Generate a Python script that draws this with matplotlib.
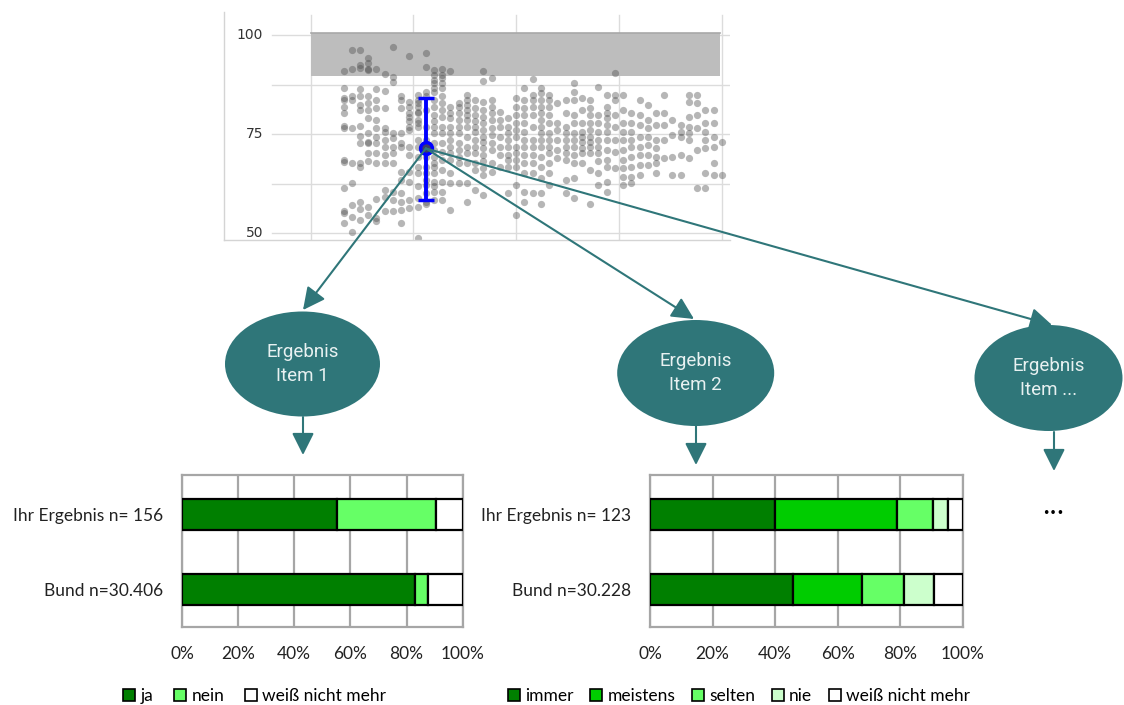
import numpy as np
import matplotlib.pyplot as plt
from matplotlib.patches import Ellipse, FancyArrowPatch, Patch

# %% data
# ----------------------------------------------------------------------
# scatter: x position of each column of dots and the y values read per column
col_x = [8, 10, 12, 14, 16, 18, 20, 22, 24, 26, 28, 30, 32, 34, 36, 38,
         40, 42, 44, 46, 48, 50, 52, 54, 56, 58, 60, 62, 64, 66, 68, 70,
         72, 74, 76, 78, 80, 82, 84, 86, 88, 90, 92, 94, 96, 98, 100]
col_y = [
    [91.0, 86.6, 84.0, 83.6, 81.9, 80.3, 77.1, 76.6, 68.5, 67.9, 61.3, 55.5, 55.1, 52.7],
    [96.2, 91.4, 84.6, 83.6, 76.6, 67.8, 62.6, 57.1, 54.2, 50.4],
    [96.2, 92.4, 91.6, 86.3, 84.5, 82.4, 81.1, 77.1, 74.5, 72.7, 67.6, 66.8, 58.0, 56.1, 53.4],
    [94.1, 92.9, 91.4, 91.2, 84.5, 82.8, 81.1, 79.0, 75.2, 73.1, 72.7, 70.2, 68.1, 56.7, 54.6],
    [91.4, 86.3, 83.6, 81.5, 78.6, 76.5, 74.4, 72.7, 70.2, 67.6, 58.6, 53.8, 53.2],
    [90.2, 86.0, 81.5, 76.5, 75.6, 73.5, 71.8, 69.7, 67.6, 60.9, 59.2, 55.5],
    [96.9, 89.5, 88.2, 75.2, 73.9, 71.8, 70.2, 67.6, 60.5, 58.4, 55.7],
    [84.5, 83.6, 81.5, 75.2, 72.7, 71.8, 65.5, 63.4, 60.1, 58.0, 55.9, 52.5],
    [94.6, 83.2, 81.9, 80.3, 79.4, 78.2, 76.9, 76.1, 71.8, 69.7, 65.5, 63.0, 58.4, 56.3],
    [84.9, 83.6, 82.8, 81.9, 80.7, 80.3, 78.6, 77.7, 76.9, 73.5, 71.8, 69.3, 66.8, 65.1,
     61.8, 58.8, 56.7, 48.7],
    [95.5, 92.0, 85.7, 84.5, 81.1, 76.9, 73.5, 71.4, 71.4, 69.3, 66.8, 65.1, 63.4, 62.2,
     60.1, 58.0, 57.4],
    [91.2, 89.9, 88.7, 87.8, 86.6, 85.7, 83.6, 81.9, 79.8, 78.2, 76.9, 75.2, 72.7, 71.0,
     69.3, 67.6, 66.8, 65.1, 63.0, 61.8, 60.5, 58.4],
    [91.3, 89.9, 89.1, 87.8, 86.6, 84.5, 82.8, 81.1, 79.4, 76.9, 75.2, 72.7, 70.6, 68.5,
     66.0, 63.0, 60.5, 58.4],
    [91.0, 81.9, 80.3, 79.0, 76.9, 75.2, 73.5, 71.8, 70.2, 68.5, 65.1, 62.6, 55.9],
    [82.8, 81.9, 80.3, 78.6, 76.9, 75.2, 72.7, 71.0, 69.3, 67.6, 62.6],
    [84.9, 83.6, 82.4, 81.1, 79.8, 78.6, 76.9, 74.4, 71.8, 70.2, 67.6, 62.6, 58.0],
    [83.6, 81.5, 79.8, 78.2, 76.9, 75.6, 73.5, 71.8, 70.2, 67.6, 65.9, 60.9],
    [91.0, 88.5, 83.2, 81.1, 79.4, 77.7, 76.1, 74.4, 73.1, 71.4, 69.7, 68.1, 66.4, 64.7, 59.7],
    [89.2, 83.6, 81.9, 80.3, 78.6, 76.5, 74.8, 72.7, 71.0, 67.6, 65.5],
    [80.7, 78.6, 76.9, 74.4, 71.8, 69.7, 66.8],
    [79.0, 76.9, 75.2, 73.5, 71.8, 69.7, 68.5, 66.8, 60.1],
    [84.0, 81.9, 79.8, 77.7, 76.1, 74.4, 71.8, 70.2, 68.5, 66.8, 62.2, 54.6],
    [86.6, 83.6, 81.5, 79.8, 77.7, 75.6, 73.5, 71.8, 69.7, 67.6, 65.1, 60.5, 58.0],
    [88.9, 84.9, 83.6, 81.9, 79.8, 76.9, 73.5, 71.8, 69.7, 67.6, 65.1, 60.1],
    [86.6, 85.3, 83.6, 81.9, 80.3, 78.6, 76.9, 75.2, 73.5, 71.8, 69.3, 66.8, 63.9, 60.1, 57.4],
    [84.9, 83.6, 81.9, 79.8, 77.7, 75.2, 73.5, 71.8, 70.2, 67.6, 65.1, 62.2],
    [82.8, 77.7, 76.1, 73.5, 71.0, 68.9],
    [83.6, 80.3, 76.9, 75.2, 73.5, 71.8, 70.2, 68.5, 63.4, 60.1],
    [87.8, 85.7, 83.6, 79.8, 77.7, 75.2, 73.5, 71.8, 69.7, 67.6, 63.9, 58.8],
    [84.0, 81.1, 77.7, 75.6, 74.4, 73.1, 71.4, 70.2, 67.6],
    [83.6, 81.5, 79.8, 77.7, 76.1, 74.4, 73.1, 71.8, 70.2, 66.0, 57.3],
    [86.8, 79.8, 77.7, 75.6, 73.5, 71.8, 70.2, 68.1, 65.1, 62.2],
    [84.9, 81.9, 80.3, 79.0, 77.3, 75.6, 73.5, 71.0, 68.5, 66.8, 63.0, 60.5],
    [90.3, 84.9, 83.6, 79.8, 76.9, 73.5, 70.6, 66.4],
    [84.9, 81.1, 77.7, 75.6, 73.5, 71.0, 68.5, 66.4, 64.3, 62.2],
    [80.3, 77.7, 75.6, 73.5, 71.8, 69.3, 66.8, 64.3, 62.6],
    [83.6, 79.8, 77.3, 74.4, 71.8, 69.7, 67.2, 64.7],
    [82.4, 78.6, 76.5, 74.4, 72.3, 69.7, 67.2],
    [80.3, 77.3, 73.5, 71.4, 69.3, 67.6, 65.1],
    [84.9, 80.3, 77.3, 73.5, 68.9],
    [78.6, 74.8, 69.3, 64.7],
    [77.3, 75.6, 74.4, 69.7, 64.7],
    [84.9, 83.2, 79.4, 76.9, 75.2, 73.5, 68.9],
    [84.9, 82.8, 79.8, 76.5, 71.0, 61.3],
    [81.1, 77.7, 75.6, 73.5, 71.4, 65.1, 61.3],
    [81.1, 77.7, 74.4, 71.8, 67.6, 64.7],
    [73.1, 64.7],
]
y_ticks = [50, 75, 100]
band_lo, band_hi = 89.6, 100.4
err_x, err_mean, err_lo, err_hi = 28, 71.4, 58.5, 84.0

# item 1
rows1 = ["Ihr Ergebnis n= 156", "Bund n=30.406"]
cats1 = ["ja", "nein", "weiß nicht mehr"]
ihr1 = [55.1, 35.4, 9.5]
bund1 = [82.9, 4.8, 12.3]
colors1 = ["#007F00", "#66FF66", "#FFFFFF"]

# item 2
rows2 = ["Ihr Ergebnis n= 123", "Bund n=30.228"]
cats2 = ["immer", "meistens", "selten", "nie", "weiß nicht mehr"]
ihr2 = [40.1, 38.9, 11.6, 4.8, 4.6]
bund2 = [45.6, 22.3, 13.3, 9.7, 9.1]
colors2 = ["#007F00", "#00CC00", "#66FF66", "#CCFFCC", "#FFFFFF"]

items = ["Ergebnis\nItem 1", "Ergebnis\nItem 2", "Ergebnis\nItem ..."]
x_ticks_pct = [0, 20, 40, 60, 80, 100]

# %% layout helpers
# ----------------------------------------------------------------------
W, H = 1124, 705
TEAL = "#2F7679"
BAR_FONT = "Lato"


def box(l, t, r, b):
    return [l / W, 1 - b / H, (r - l) / W, (b - t) / H]


fig = plt.figure(figsize=(W / 100, H / 100), dpi=100)
fig.patch.set_facecolor("white")

# %% scatter
# ----------------------------------------------------------------------
ax_sc = fig.add_axes(box(224, 12, 730, 240))
ax_sc.set_xlim(-21.1, 102.0)
ax_sc.set_ylim(48.3, 105.8)
for s in ["top", "right"]:
    ax_sc.spines[s].set_visible(False)
for s in ["left", "bottom"]:
    ax_sc.spines[s].set_color("#D4D4D4")
    ax_sc.spines[s].set_linewidth(1)
ax_sc.set_xticks([])
ax_sc.set_yticks([])

# grid
for g in [50, 62.5, 75, 87.5, 100]:
    ax_sc.plot([-9.4, 102.0], [g, g], color="#DCDCDC", lw=1, zorder=0)
for g in [0, 25, 50, 75, 100]:
    ax_sc.plot([g, g], [48.3, 105.0], color="#DCDCDC", lw=1, zorder=0)
for t in y_ticks:
    ax_sc.text(-11.6, t, str(t), ha="right", va="center", fontsize=10, color="#333333")

ax_sc.fill_between([0, 99.6], band_lo, band_hi, color="#BDBDBD", lw=0, zorder=1)
ax_sc.plot([0, 99.6], [band_hi, band_hi], color="#A8A8A8", lw=1.2, zorder=1)

xs = np.concatenate([[x] * len(ys) for x, ys in zip(col_x, col_y)])
ys = np.concatenate(col_y)
ax_sc.scatter(xs, ys, s=27, color="#4A4A4A", alpha=0.4, lw=0, zorder=2)

ax_sc.errorbar([err_x], [err_mean], yerr=[[err_mean - err_lo], [err_hi - err_mean]],
               fmt="o", color="#0000FF", ecolor="#0000FF", elinewidth=2.8, capsize=5.5,
               capthick=2.8, ms=8.5, mfc="#3C3C66", mec="#0000FF", mew=2.5, zorder=4)

# %% bar charts
# ----------------------------------------------------------------------
def stacked(rect, rows, cats, ihr, bund, colors, leg_left, colspace):
    ax = fig.add_axes(box(*rect))
    vals = np.array([ihr, bund])
    left = np.zeros(2)
    for j, c in enumerate(cats):
        ax.barh([0, 1], vals[:, j], left=left, height=0.414, color=colors[j],
                edgecolor="black", lw=1.6, label=c, zorder=3)
        left += vals[:, j]
    ax.set_xlim(0, 100)
    ax.set_ylim(1.497, -0.531)
    ax.set_yticks([0, 1])
    ax.set_yticklabels(rows, fontsize=12.5, family=BAR_FONT, color="#222222")
    ax.set_xticks(x_ticks_pct)
    ax.set_xticklabels([f"{v}%" for v in x_ticks_pct], fontsize=12.5, family=BAR_FONT,
                       color="#222222")
    ax.tick_params(length=0, axis="x", pad=14)
    ax.tick_params(length=0, axis="y", pad=13.5)
    ax.xaxis.grid(True, color="#A6A6A6", lw=1.6)
    ax.set_axisbelow(True)
    for s in ax.spines.values():
        s.set_color("#A6A6A6")
        s.set_linewidth(1.6)
    handles = [Patch(facecolor=colors[j], edgecolor="black", lw=1.2) for j in range(len(cats))]
    ax.legend(handles, cats, loc="center left", bbox_to_anchor=(leg_left, -0.46), ncol=len(cats),
              frameon=False, handlelength=0.7, handleheight=0.7, handletextpad=0.3,
              columnspacing=colspace, borderpad=0, borderaxespad=0,
              prop={"family": BAR_FONT, "size": 12.5})
    return ax


stacked((182, 475, 462.7, 626.7), rows1, cats1, ihr1, bund1, colors1, -0.21, 1.2)
stacked((650, 475, 962.7, 626.7), rows2, cats2, ihr2, bund2, colors2, -0.455, 0.95)

# %% diagram overlay: ellipses and arrows
# ----------------------------------------------------------------------
ov = fig.add_axes([0, 0, 1, 1], zorder=10)
ov.set_xlim(0, W)
ov.set_ylim(H, 0)
ov.axis("off")
ov.patch.set_alpha(0)

# start of the arrows = error bar centre
start = ov.transData.inverted().transform(ax_sc.transData.transform((err_x, err_mean)))

ell = [((302.5, 364), 155, 105), ((695.7, 373), 157, 106), ((1048.5, 378), 148, 106)]
tips = [(303, 310), (694, 319), (1052, 325)]
downs = [((303, 417), (303, 455)), ((696, 426), (696, 465)), ((1054, 432), (1054, 471))]

style = "-|>,head_length=0.9,head_width=0.45"
for (c, w, h), txt, tip, (d0, d1) in zip(ell, items, tips, downs):
    ov.add_patch(Ellipse(c, w, h, facecolor=TEAL, edgecolor="none"))
    ov.text(c[0], c[1], txt, ha="center", va="center", color="#E8F1F1", fontsize=13.5,
            family="Roboto", linespacing=1.45)
    ov.add_patch(FancyArrowPatch(tuple(start), tip, arrowstyle=style, mutation_scale=15,
                                 color=TEAL, lw=1.5, shrinkA=0, shrinkB=0))
    ov.add_patch(FancyArrowPatch(d0, d1, arrowstyle=style, mutation_scale=15,
                                 color=TEAL, lw=1.5, shrinkA=0, shrinkB=0))

ov.text(1053, 514, "•••", ha="center", va="center", fontsize=9, color="black")

fig.savefig("out.png", dpi=100)
